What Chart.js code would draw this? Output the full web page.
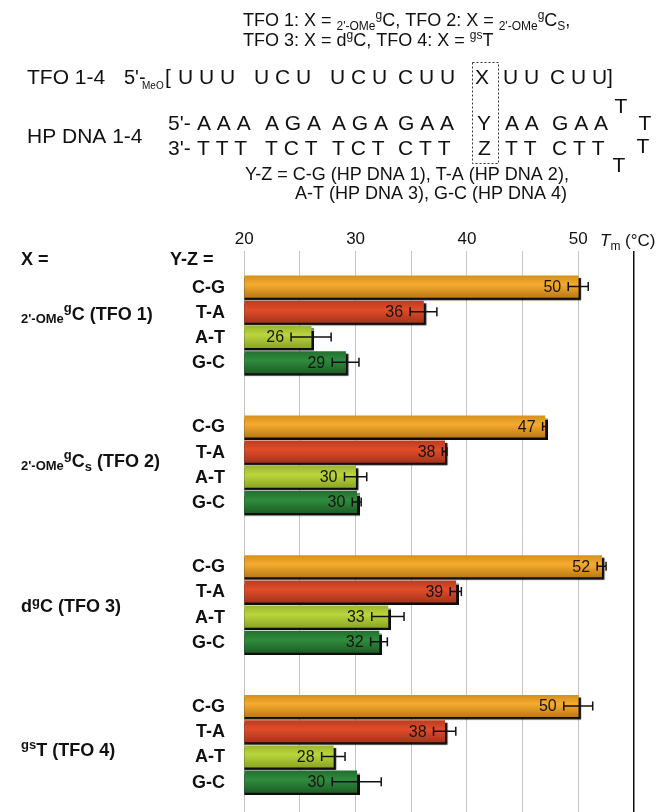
<!DOCTYPE html>
<html><head><meta charset="utf-8">
<script src="https://cdn.jsdelivr.net/npm/chart.js@4.4.1/dist/chart.umd.min.js"></script>
<style>html,body{margin:0;padding:0;background:#fff;}canvas{display:block;}</style>
</head><body>
<canvas id="c" width="662" height="812"></canvas>
<script>
// ---------- data ----------
const groupNames = ['TFO 1', 'TFO 2', 'TFO 3', 'TFO 4'];
const pairLabels = ['C-G', 'T-A', 'A-T', 'G-C'];
const tmCG = [50.0, 47.0, 52.1, 50.0];
const tmTA = [36.1, 38.0, 39.0, 38.0];
const tmAT = [26.0, 30.0, 32.9, 28.0];
const tmGC = [29.1, 30.1, 32.1, 30.1];
const errCG = [0.9, 0.2, 0.4, 1.3];
const errTA = [1.2, 0.2, 0.5, 1.0];
const errAT = [1.8, 1.0, 1.45, 1.05];
const errGC = [1.2, 0.4, 0.75, 2.2];
const xTickLabels = [20, 30, 40, 50];

// ---------- layout / style ----------
const FONT = '"Liberation Sans", Arial, Helvetica, sans-serif';
const ROW_PX = 25.2, GROUP_STEP = 5.548, PLOT_TOP = 251, FIRST_CENTER = 286.6;
const Y_MIN = -(FIRST_CENTER - PLOT_TOP) / ROW_PX;
const Y_MAX = Y_MIN + (812 - PLOT_TOP) / ROW_PX;
const labelRows = [1.07, 1.35, 1.57, 1.72];
const palettes = [
  ['#cf8a17', '#f6ab2f', '#b37412'],
  ['#b33a1c', '#e14c29', '#a0301a'],
  ['#97b02a', '#bad53c', '#85a01f'],
  ['#216a2c', '#2f8c3d', '#1a5924']
];
const seriesVals = [tmCG, tmTA, tmAT, tmGC];
const seriesErr = [errCG, errTA, errAT, errGC];

function rowPos(g, i) { return g * GROUP_STEP + i; }

const datasets = pairLabels.map((p, i) => ({
  label: p,
  data: seriesVals[i].map((v, g) => ({ x: v, y: rowPos(g, i) })),
  errs: seriesErr[i],
  order: 4 - i,
  grouped: false,
  barPercentage: 1,
  categoryPercentage: 1,
  borderWidth: 0,
  backgroundColor: (c) => {
    const pal = palettes[i];
    const chart = c.chart;
    const ys = chart.scales && chart.scales.y;
    if (!chart.chartArea || !ys || c.type !== 'data' || !c.raw) return pal[1];
    const yc = ys.getPixelForValue(c.raw.y);
    const gr = chart.ctx.createLinearGradient(0, yc - ROW_PX / 2, 0, yc + ROW_PX / 2);
    gr.addColorStop(0, pal[0]);
    gr.addColorStop(0.42, pal[1]);
    gr.addColorStop(1, pal[2]);
    return gr;
  }
}));

function rich(ctx, x, y, segs, bold) {
  for (const s of segs) {
    const [t, size, dy, italic] = s;
    ctx.font = (italic ? 'italic ' : '') + (bold ? 'bold ' : '') + size + 'px ' + FONT;
    ctx.fillText(t, x, y + (dy || 0));
    x += ctx.measureText(t).width;
  }
  return x;
}

const shadowAndErr = {
  id: 'shadowAndErr',
  beforeDatasetsDraw(chart) {
    const ctx = chart.ctx;
    ctx.save();
    ctx.shadowColor = 'rgba(0,0,0,0.95)';
    ctx.shadowOffsetX = 2.5;
    ctx.shadowOffsetY = 2.5;
    ctx.shadowBlur = 1;
  },
  afterDatasetsDraw(chart) {
    const ctx = chart.ctx;
    ctx.restore();
    const xs = chart.scales.x, ys = chart.scales.y;
    ctx.save();
    chart.data.datasets.forEach((ds, i) => {
      ds.data.forEach((pt, g) => {
        const e = ds.errs[g];
        const yc = ys.getPixelForValue(pt.y);
        const x0 = xs.getPixelForValue(pt.x - e), x1 = xs.getPixelForValue(pt.x + e);
        ctx.strokeStyle = '#111';
        ctx.lineWidth = 1.5;
        ctx.beginPath();
        ctx.moveTo(x0, yc); ctx.lineTo(x1, yc);
        ctx.moveTo(x0, yc - 4.5); ctx.lineTo(x0, yc + 4.5);
        ctx.moveTo(x1, yc - 4.5); ctx.lineTo(x1, yc + 4.5);
        ctx.stroke();
        ctx.fillStyle = '#151515';
        ctx.font = '16px ' + FONT;
        ctx.textAlign = 'right';
        ctx.textBaseline = 'middle';
        ctx.fillText(String(Math.round(pt.x)), x0 - 7, yc + 1);
      });
    });
    ctx.restore();
  }
};

const textPlugin = {
  id: 'texts',
  afterDraw(chart) {
    const ctx = chart.ctx;
    const ys = chart.scales.y;
    ctx.save();
    ctx.fillStyle = '#111';
    ctx.textBaseline = 'alphabetic';
    ctx.textAlign = 'left';
    // header lines
    rich(ctx, 243, 26, [
      ['TFO 1: X = ', 18], ["2'-OMe", 12, 4], ['g', 12, -7], ['C', 18],
      [', TFO 2: X = ', 18], ["2'-OMe", 12, 4], ['g', 12, -7], ['C', 18], ['S', 12, 4], [',', 18]
    ]);
    rich(ctx, 243, 46, [
      ['TFO 3: X = d', 18], ['g', 12, -7], ['C, TFO 4: X = ', 18], ['gs', 12, -7], ['T', 18]
    ]);
    // TFO strand
    const big = '21px ' + FONT;
    ctx.font = big;
    ctx.fillText('TFO 1-4', 27, 84);
    ctx.font = '20px ' + FONT;
    ctx.fillText("5'-", 124, 84);
    ctx.font = '10px ' + FONT; ctx.fillText('MeO', 142, 89);
    ctx.font = big;
    [['[', 165], ['U U U', 178], ['U C U', 254], ['U C U', 330], ['C U U', 398], ['X', 475], ['U U', 503], ['C U U', 550], [']', 607]]
      .forEach(([t, x]) => ctx.fillText(t, x, 84));
    // HP DNA
    ctx.fillText('HP DNA 1-4', 27, 143);
    [["5'-", 168], ['A A A', 197], ['A G A', 265], ['A G A', 332], ['G A A', 398], ['Y', 477], ['A A', 505], ['G A A', 552]]
      .forEach(([t, x]) => ctx.fillText(t, x, 130));
    [["3'-", 168], ['T T T', 197], ['T C T', 265], ['T C T', 332], ['C T T', 398], ['Z', 478], ['T T', 505], ['C T T', 552]]
      .forEach(([t, x]) => ctx.fillText(t, x, 155));
    ctx.textAlign = 'center';
    [[621, 113], [645, 130], [643, 153], [619, 172]].forEach(([x, y]) => ctx.fillText('T', x, y));
    ctx.textAlign = 'left';
    // dashed box
    ctx.save();
    ctx.strokeStyle = '#333'; ctx.lineWidth = 1; ctx.setLineDash([2, 2]);
    ctx.strokeRect(472.5, 62.5, 26, 101);
    ctx.restore();
    // Y-Z legend text
    ctx.font = '18px ' + FONT;
    ctx.fillText('Y-Z = C-G (HP DNA 1), T-A (HP DNA 2),', 245, 180);
    ctx.fillText('A-T (HP DNA 3), G-C (HP DNA 4)', 295, 199);
    // axis title
    rich(ctx, 600, 246, [['T', 17, 0, true], ['m', 12, 4], [' (°C)', 17]]);
    // column headers
    ctx.font = 'bold 18px ' + FONT;
    ctx.fillText('X =', 21, 265);
    ctx.fillText('Y-Z =', 170, 265);
    // pair labels
    ctx.textAlign = 'right';
    ctx.textBaseline = 'middle';
    for (let g = 0; g < groupNames.length; g++) {
      pairLabels.forEach((p, i) => {
        ctx.fillText(p, 225, ys.getPixelForValue(rowPos(g, i)) + 1);
      });
    }
    // group labels
    ctx.textAlign = 'left';
    ctx.textBaseline = 'alphabetic';
    const gl = [
      [["2'-OMe", 13, 3], ['g', 13, -8], ['C (' + groupNames[0] + ')', 18]],
      [["2'-OMe", 13, 3], ['g', 13, -8], ['C', 18], ['s', 13, 4], [' (' + groupNames[1] + ')', 18]],
      [['d', 18], ['g', 13, -6], ['C (' + groupNames[2] + ')', 18]],
      [['gs', 13, -7], ['T (' + groupNames[3] + ')', 18]]
    ];
    gl.forEach((segs, g) => {
      const y = ys.getPixelForValue(rowPos(g, labelRows[g])) + 6.5;
      rich(ctx, 21, y, segs, true);
    });
    ctx.restore();
  }
};

new Chart(document.getElementById('c'), {
  type: 'bar',
  data: { datasets },
  options: {
    indexAxis: 'y',
    responsive: false,
    devicePixelRatio: 1,
    animation: false,
    layout: { padding: { left: 244.3, right: 28.1, top: 0, bottom: 0 } },
    plugins: { legend: { display: false }, tooltip: { enabled: false } },
    scales: {
      x: {
        type: 'linear', position: 'top', min: 20, max: 55,
        afterFit(s) { s.height = PLOT_TOP; },
        border: { display: false },
        grid: {
          drawTicks: false,
          color: (c) => (c.tick && c.tick.value === 55) ? '#111' : '#c4c4c4',
          lineWidth: (c) => (c.tick && c.tick.value === 55) ? 1.5 : 1
        },
        ticks: {
          stepSize: 5, autoSkip: false, maxRotation: 0, minRotation: 0, padding: 1,
          color: '#111', font: { family: FONT, size: 17 },
          callback: (v) => xTickLabels.includes(v) ? String(v) : ''
        }
      },
      y: { type: 'linear', reverse: true, min: Y_MIN, max: Y_MAX, display: false, offset: false }
    }
  },
  plugins: [shadowAndErr, textPlugin]
});
</script>
</body></html>
